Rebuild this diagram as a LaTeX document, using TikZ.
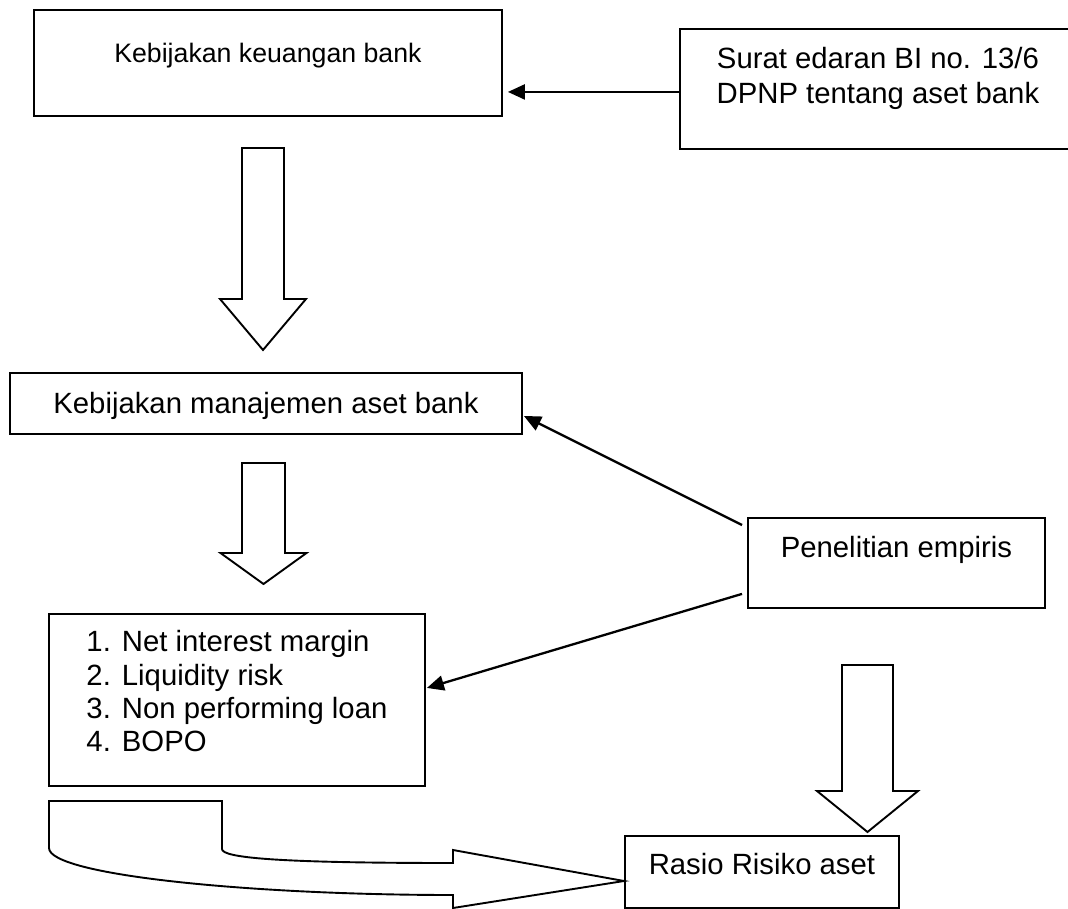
\documentclass[tikz,border=0pt]{standalone}
\usepackage{fontspec}
\setmainfont{Liberation Sans}
\usetikzlibrary{arrows.meta,calc}

\begin{document}
\begin{tikzpicture}[x=1pt,y=-1pt,
    box/.style={draw=black,line width=1.9pt,fill=white,inner sep=0pt,
      anchor=north west,font=\fontsize{29.3}{33.3}\selectfont},
    link/.style={-{Triangle[length=17pt,width=15pt]},line width=2.3pt},
    fatarrow/.style={draw=black,line width=1.9pt,fill=white},
  ]
  \useasboundingbox (0,0) rectangle (1068,909);

  \node[box,minimum width=468pt,text height=53pt,text depth=53pt,
        font=\fontsize{26.7}{31}\selectfont] (keuangan) at (33,9)
    {Kebijakan keuangan bank};
  \node[box,minimum width=396pt,text height=40pt,text depth=80pt,
        font=\fontsize{29.3}{35}\selectfont] (surat) at (679,28)
    {\begin{tabular}[t]{@{}c@{}}Surat edaran BI no. 13/6\\
     DPNP tentang aset bank\end{tabular}};
  \node[box,minimum width=512pt,text height=41pt,text depth=20pt]
    (manajemen) at (9,372) {Kebijakan manajemen aset bank};
  \node[box,minimum width=376pt,text height=38pt,text depth=134pt]
    (daftar) at (48,613)
    {\begin{tabular}[t]{@{}l@{\hspace{11pt}}l@{}}
     1.&Net interest margin\\
     2.&Liquidity risk\\
     3.&Non performing loan\\
     4.&BOPO\end{tabular}};
  \node[box,minimum width=297pt,text height=40pt,text depth=50pt]
    (penelitian) at (747,517) {Penelitian empiris};
  \node[box,minimum width=274pt,text height=39pt,text depth=33pt]
    (rasio) at (624,835) {Rasio Risiko aset};

  % thin arrows
  \coordinate (sx) at ([shift={(0,3)}]surat.west);
  \draw[link,shorten >=5pt] (sx) -- (keuangan.east |- sx);
  \draw[link] ([shift={(-5,8)}]penelitian.north west)
    -- ([shift={(1,12.5)}]manajemen.east);
  \draw[link] ([shift={(-5,-15)}]penelitian.south west)
    -- ([shift={(1,-12)}]daftar.east);

  % block arrows
  \foreach \cx/\sw/\hw/\top/\neck/\tip in {263/21/43/148/299/350,
                                           263.5/21.5/43/463/553/584,
                                           867.5/25.5/50.5/665/791/832} {
    \draw[fatarrow] ({\cx-\sw},\top) -- ({\cx+\sw},\top) -- ({\cx+\sw},\neck)
      -- ({\cx+\hw},\neck) -- (\cx,\tip) -- ({\cx-\hw},\neck)
      -- ({\cx-\sw},\neck) -- cycle;
  }

  \draw[fatarrow] (49,801) -- (222,801) -- (222,849)
    .. controls (222,858) and (280,863) .. (453,863) -- (453,850)
    -- (624,881) -- (453,908) -- (453,895)
    .. controls (250,895) and (49,875) .. (49,848) -- cycle;

\end{tikzpicture}
\end{document}
